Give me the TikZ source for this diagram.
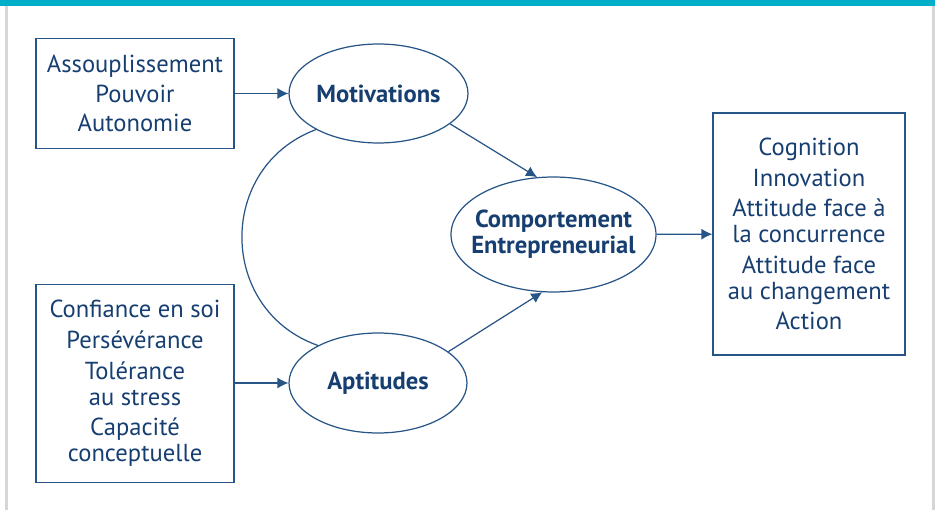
\documentclass[tikz,border=0pt]{standalone}
\usepackage{fontspec}
\setmainfont{PT Sans}
\usetikzlibrary{arrows.meta,shapes.geometric}
\definecolor{navy}{RGB}{22,62,112}
\definecolor{edge}{RGB}{40,85,135}
\definecolor{band}{RGB}{0,174,199}
\definecolor{frame}{RGB}{214,214,214}
\tikzset{
    txt/.style={font=\fontsize{14}{14.7}\selectfont, text=navy, align=center},
    listbox/.style={txt, draw=edge, line width=0.7pt, inner sep=0pt},
    oval/.style={txt, draw=edge, line width=0.7pt, ellipse, inner sep=0pt, font=\fontsize{14}{14.7}\selectfont\bfseries},
    link/.style={-{Latex[length=2.2mm,width=2.2mm]}, edge, line width=0.7pt}
}
\begin{document}
\begin{tikzpicture}[x=0.02cm,y=-0.02cm]
    \useasboundingbox (0,0) rectangle (938,510);
    
            % frame
            \fill[band] (0,0) rectangle (935,6);
            \draw[frame,line width=1.2pt]
            (6.5,6) -- (6.5,510)
            (933.5,6) -- (933.5,510);
            
            % boxes
            \node[listbox,minimum width=3.96cm,minimum height=2.2cm]
            (need) at (135,93.5) {Assouplissement\\[2pt]Pouvoir\\[2pt]Autonomie};
            \node[listbox,minimum width=3.96cm,minimum height=3.96cm]
            (trait) at (135,383.5) {Confiance en soi\\[2.8pt]Persévérance\\[2.8pt]Tolérance\\au stress\\[2.8pt]Capacité\\conceptuelle};
            \node[listbox,minimum width=3.84cm,minimum height=4.84cm]
            (result) at (809,234) {Cognition\\[2.8pt]Innovation\\[2.8pt]Attitude face à\\la concurrence\\[2.8pt]Attitude face\\au changement\\[2.8pt]Action};
            
            % ovals
            \node[oval,minimum width=3.58cm,minimum height=1.98cm]
            (motiv) at (378.5,93.5) {Motivations};
            \node[oval,minimum width=3.56cm,minimum height=2cm]
            (aptit) at (378,383) {Aptitudes};
            \node[oval,minimum width=4.1cm,minimum height=2.3cm,inner xsep=-6pt]
            (behav) at (553.5,234.5) {Comportement\\Entrepreneurial};
            
            % links
            \draw[link] (need) -- (motiv);
            \draw[link] (trait.east |- aptit) -- (aptit);
            \draw[link] (motiv.337) -- (behav.106);
            \draw[link] (aptit.24) -- (behav.259);
            \draw[link] (behav) -- (result);
            \draw[edge,line width=0.7pt]
            (motiv.210) to[bend right=70,looseness=1.26] (aptit.148);
        
        \end{tikzpicture}
\end{document}
